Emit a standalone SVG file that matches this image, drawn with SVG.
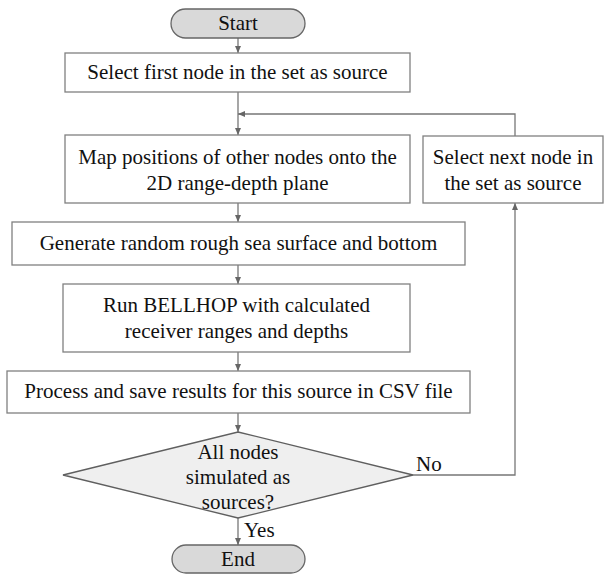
<svg xmlns="http://www.w3.org/2000/svg" width="604" height="575" viewBox="0 0 604 575">
<defs>
<style>
.box{fill:#ffffff;stroke:#808080;stroke-width:1.3}
.term{fill:#d9d9d9;stroke:#666666;stroke-width:1.3}
.dec{fill:#efefef;stroke:#5f5f5f;stroke-width:1.3}
.t{font-family:'Liberation Serif','Times New Roman',Tinos,'Nimbus Roman','Noto Serif','DejaVu Serif',FreeSerif,serif;font-size:21px;fill:#111;text-anchor:middle}
.lbl{font-family:'Liberation Serif','Times New Roman',Tinos,'Nimbus Roman','Noto Serif','DejaVu Serif',FreeSerif,serif;font-size:21px;fill:#111}
.c{fill:none;stroke:#777777;stroke-width:1.3}
</style>
<marker id="ah" markerWidth="8" markerHeight="8" refX="7" refY="4" orient="auto" markerUnits="userSpaceOnUse">
<path d="M0,1 L7,4 L0,7 Z" fill="#666666"/>
</marker>
</defs>
<rect width="604" height="575" fill="#ffffff"/>
<g id="connectors">
<line class="c" x1="238" y1="38" x2="238" y2="53" marker-end="url(#ah)"/>
<line class="c" x1="238" y1="92" x2="238" y2="135" marker-end="url(#ah)"/>
<polyline class="c" points="515,136 515,114 238,114" marker-end="url(#ah)"/>
<line class="c" x1="238" y1="203" x2="238" y2="222" marker-end="url(#ah)"/>
<line class="c" x1="238" y1="265" x2="238" y2="284" marker-end="url(#ah)"/>
<line class="c" x1="238" y1="352" x2="238" y2="371" marker-end="url(#ah)"/>
<line class="c" x1="238" y1="413" x2="238" y2="432" marker-end="url(#ah)"/>
<line class="c" x1="238" y1="518" x2="238" y2="545" marker-end="url(#ah)"/>
<polyline class="c" points="413,475 515,475 515,203" marker-end="url(#ah)"/>
<text class="lbl" x="416" y="471">No</text>
<text class="lbl" x="244" y="537">Yes</text>
</g>
<g id="start">
<rect class="term" x="171" y="9" width="134" height="29" rx="14.5"/>
<text class="t" x="238" y="30">Start</text>
</g>
<g id="select-first">
<rect class="box" x="65" y="53" width="345" height="39"/>
<text class="t" x="237.5" y="79">Select first node in the set as source</text>
</g>
<g id="map-positions">
<rect class="box" x="65" y="135" width="345" height="68"/>
<text class="t" x="237.5" y="164">Map positions of other nodes onto the</text>
<text class="t" x="237.5" y="190">2D range-depth plane</text>
</g>
<g id="select-next">
<rect class="box" x="423" y="136" width="180" height="67"/>
<text class="t" x="513" y="164">Select next node in</text>
<text class="t" x="513" y="190">the set as source</text>
</g>
<g id="generate">
<rect class="box" x="12" y="222" width="453" height="43"/>
<text class="t" x="238.5" y="250">Generate random rough sea surface and bottom</text>
</g>
<g id="bellhop">
<rect class="box" x="63" y="284" width="347" height="68"/>
<text class="t" x="236.5" y="312">Run BELLHOP with calculated</text>
<text class="t" x="236.5" y="338">receiver ranges and depths</text>
</g>
<g id="process">
<rect class="box" x="7" y="371" width="463" height="42"/>
<text class="t" x="238.5" y="398">Process and save results for this source in CSV file</text>
</g>
<g id="decision">
<polygon class="dec" points="238,432 413,475 238,518 63,475"/>
<text class="t" x="238" y="459">All nodes</text>
<text class="t" x="238" y="484">simulated as</text>
<text class="t" x="238" y="509">sources?</text>
</g>
<g id="end">
<rect class="term" x="172" y="545" width="133" height="28" rx="14"/>
<text class="t" x="238" y="566">End</text>
</g>
</svg>
